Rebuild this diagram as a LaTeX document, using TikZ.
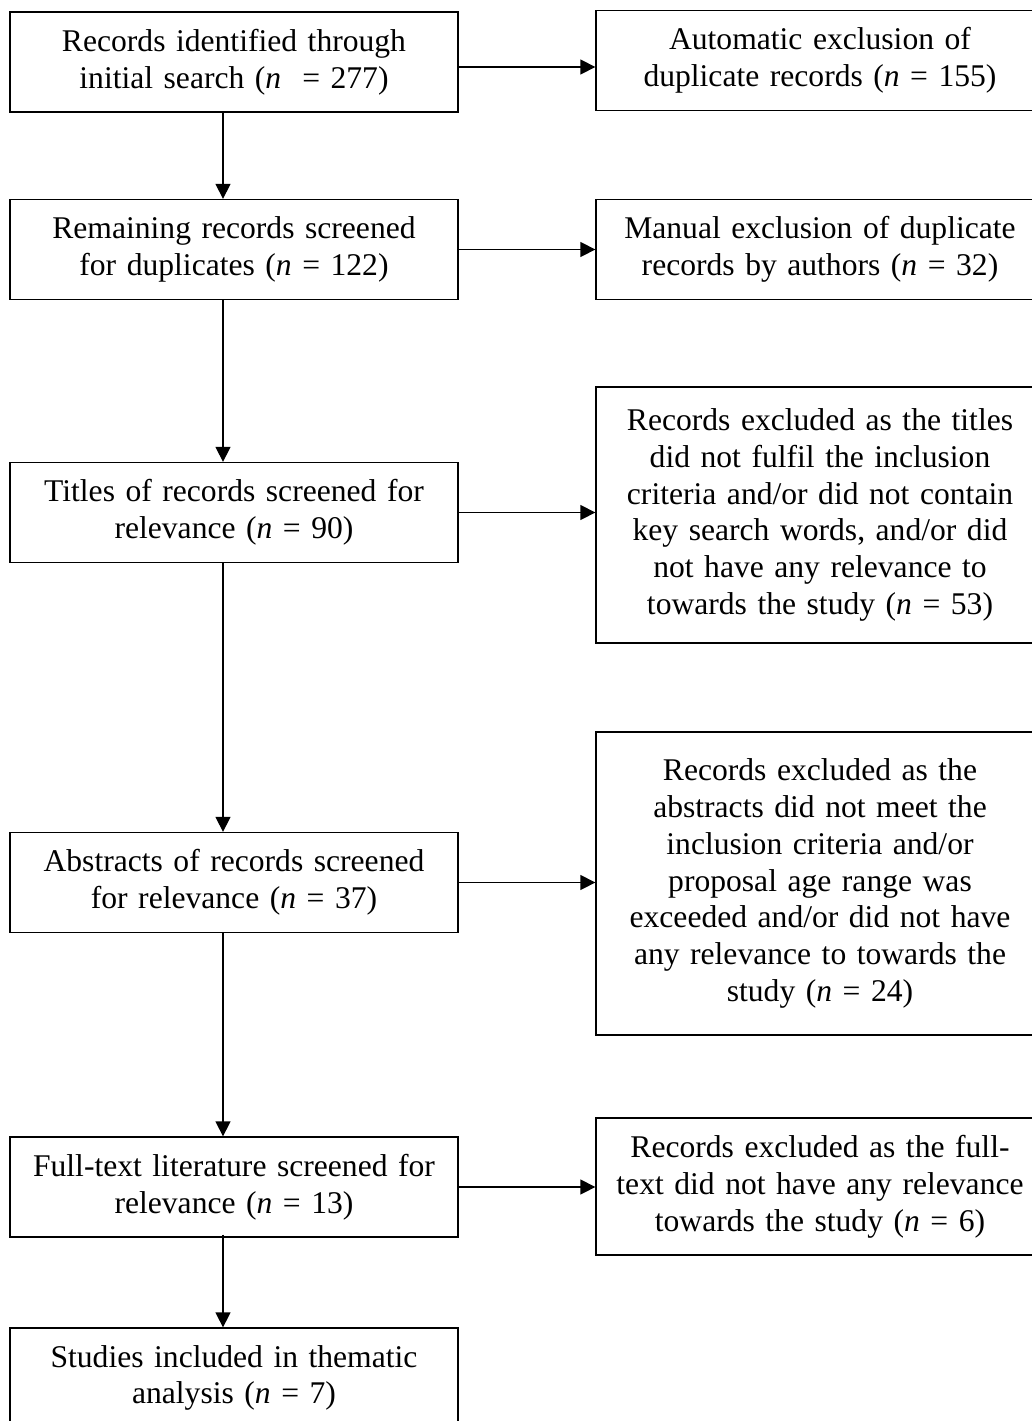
\documentclass[tikz,border=0pt]{standalone}
\usepackage{fontspec}
\setmainfont[WordSpace=0.9]{Liberation Serif}
\usetikzlibrary{arrows.meta}
\begin{document}
\begin{tikzpicture}[x=1pt,y=-1pt,
  box/.style={draw=black, line width=1.3pt, minimum width=448pt, inner sep=0pt,
    text width=436pt, align=center, font=\fontsize{31.6}{36.8}\selectfont},
  arr/.style={-{Triangle[length=15pt,width=15pt]}, line width=1.3pt}]
\useasboundingbox (0,0) rectangle (1032,1421);
\coordinate (ax) at (223,0);
% left column
\node[box, minimum height=100pt] (b1) at (234,62) {Records identified through\\initial search (\textit{n}\ \ = 277)};
\node[box, minimum height=100pt] (b2) at (234,249.5) {Remaining records screened\\for duplicates (\textit{n} = 122)};
\node[box, minimum height=100pt] (b3) at (234,512.5) {Titles of records screened for\\relevance (\textit{n} = 90)};
\node[box, minimum height=100pt] (b4) at (234,882.5) {Abstracts of records screened\\for relevance (\textit{n} = 37)};
\node[box, minimum height=100pt] (b5) at (234,1187) {Full-text literature screened for\\relevance (\textit{n} = 13)};
\node[box, minimum height=100pt] (b6) at (234,1378) {Studies included in thematic\\analysis (\textit{n} = 7)};
% right column
\node[box, minimum height=100pt] (r1) at (820,60.4) {Automatic exclusion of\\duplicate records (\textit{n} = 155)};
\node[box, minimum height=100pt] (r2) at (820,249.5) {Manual exclusion of duplicate\\records by authors (\textit{n} = 32)};
\node[box, minimum height=256pt] (r3) at (820,515) {Records excluded as the titles\\did not fulfil the inclusion\\criteria and/or did not contain\\key search words, and/or did\\not have any relevance to\\towards the study (\textit{n} = 53)};
\node[box, minimum height=303pt] (r4) at (820,883.5) {Records excluded as the\\abstracts did not meet the\\inclusion criteria and/or\\proposal age range was\\exceeded and/or did not have\\any relevance to towards the\\study (\textit{n} = 24)};
\node[box, minimum height=137pt] (r5) at (820,1186.5) {Records excluded as the full-\\text did not have any relevance\\towards the study (\textit{n} = 6)};
% vertical arrows
\draw[arr] (b1.south -| ax) -- (b2.north -| ax);
\draw[arr] (b2.south -| ax) -- (b3.north -| ax);
\draw[arr] (b3.south -| ax) -- (b4.north -| ax);
\draw[arr] (b4.south -| ax) -- (b5.north -| ax);
\draw[arr] ([yshift=3pt]b5.south -| ax) -- (b6.north -| ax);
% horizontal arrows
\draw[arr] ([yshift=-5pt]b1.east) -- ([yshift=-5pt]b1.east -| r1.west);
\draw[arr] (b2.east) -- (b2.east -| r2.west);
\draw[arr] (b3.east) -- (b3.east -| r3.west);
\draw[arr] (b4.east) -- (b4.east -| r4.west);
\draw[arr] (b5.east) -- (b5.east -| r5.west);
\end{tikzpicture}
\end{document}
